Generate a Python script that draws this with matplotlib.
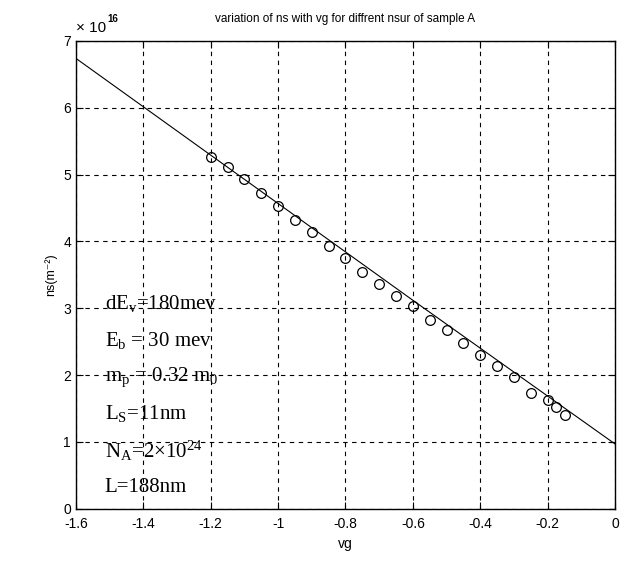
"""Variation of ns with vg for sample A (ns in units of 1e16 m^-2)."""

import matplotlib
matplotlib.use("Agg")
import matplotlib.pyplot as plt

plt.rcParams["font.family"] = ["Liberation Sans", "DejaVu Sans"]
plt.rcParams["mathtext.fontset"] = "custom"
plt.rcParams["mathtext.rm"] = "Liberation Serif"
plt.rcParams["mathtext.it"] = "Liberation Serif:italic"

# measured points
vg_meas = [-1.20, -1.15, -1.10, -1.05, -1.00, -0.95, -0.90, -0.85, -0.80, -0.75,
           -0.70, -0.65, -0.60, -0.55, -0.50, -0.45, -0.40, -0.35, -0.30, -0.25,
           -0.20, -0.175, -0.15]
ns_meas = [5.27, 5.12, 4.93, 4.72, 4.53, 4.32, 4.14, 3.93, 3.75, 3.55,
           3.37, 3.18, 3.03, 2.83, 2.67, 2.48, 2.30, 2.13, 1.97, 1.73,
           1.63, 1.52, 1.40]

# model curve
vg_model = [-1.6, -0.6, 0.0]
ns_model = [6.74, 3.12, 0.97]

params = [
    r"dE$_\mathrm{v}$=180mev",
    r"E$_\mathrm{b}$ = 30 mev",
    r"m$_\mathrm{p}$ = 0.32 m$_\mathrm{0}$",
    r"L$_\mathrm{S}$=11nm",
    r"N$_\mathrm{A}$=2×10$^\mathrm{24}$",
    r"L=188nm",
]

fig = plt.figure(figsize=(6.27, 5.61), dpi=100)
ax = fig.add_axes([0.121, 0.093, 0.860, 0.834])

ax.plot(vg_model, ns_model, color="black", linewidth=0.8)
ax.plot(vg_meas, ns_meas, linestyle="none", marker="o", markersize=7,
        markerfacecolor="none", markeredgecolor="black", markeredgewidth=0.9)

ax.set_xlim(-1.6, 0)
ax.set_ylim(0, 7)
ax.set_xticks([-1.6, -1.4, -1.2, -1, -0.8, -0.6, -0.4, -0.2, 0])
ax.set_xticklabels(["-1.6", "-1.4", "-1.2", "-1", "-0.8", "-0.6", "-0.4", "-0.2", "0"])
ax.set_yticks(range(8))
ax.tick_params(direction="in", length=5, top=True, right=True, labelsize=10,
               width=0.8)
ax.tick_params(axis="x", pad=6)
ax.grid(True, color="black", linestyle=(0, (4, 4)), linewidth=0.8)
for s in ax.spines.values():
    s.set_linewidth(1.0)

ax.set_xlabel("vg", fontsize=10)
ax.set_ylabel("ns(m⁻²)", fontsize=9)
ax.set_title("variation of ns with vg for diffrent nsur of sample A",
             fontsize=8.5, pad=14)
ax.text(0.0, 1.012, "× 10", transform=ax.transAxes,
        fontsize=11, ha="left", va="bottom")
ax.text(0.059, 1.036, "16", transform=ax.transAxes,
        fontsize=7, ha="left", va="bottom", fontweight="bold")

y0 = 3.07
for i, p in enumerate(params):
    ax.text(-1.515, y0 - i * 0.55, p, fontsize=15, family="Liberation Serif",
            va="center", ha="left")

fig.savefig("out.png", dpi=100)
